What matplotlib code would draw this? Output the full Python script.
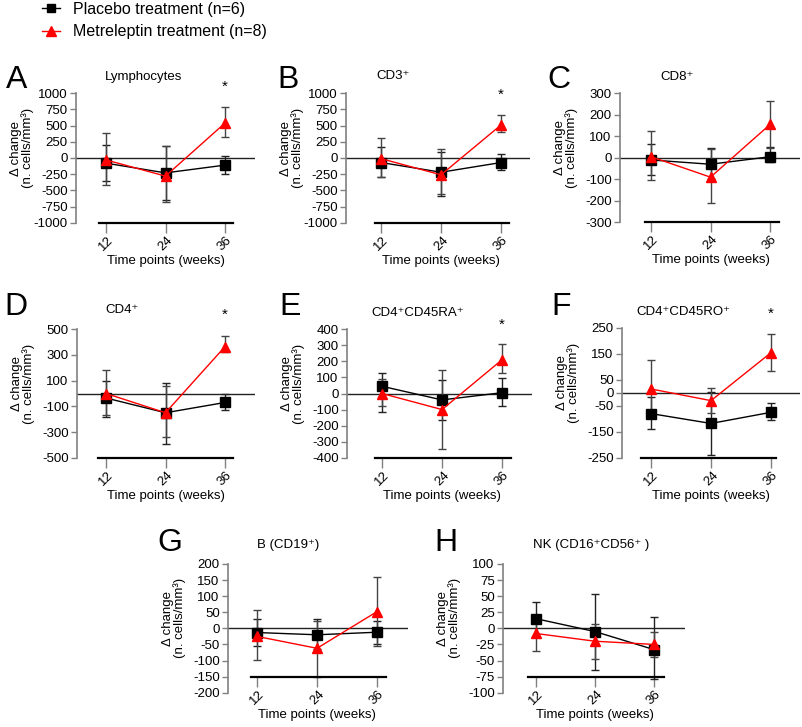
import numpy as np
import matplotlib.pyplot as plt
import matplotlib.transforms as mtransforms
from matplotlib.lines import Line2D

plt.rcParams['font.family'] = ['Liberation Sans', 'DejaVu Sans']

W, H = 802, 727
weeks = [12, 24, 36]

# A - Lymphocytes
lym_plc = [-80, -230, -110]
lym_plc_hi = [200, 180, 25]
lym_plc_lo = [-350, -650, -250]
lym_met = [-30, -280, 540]
lym_met_hi = [390, 190, 790]
lym_met_lo = [-420, -680, 330]

# B - CD3+
cd3_plc = [-70, -220, -70]
cd3_plc_hi = [170, 100, 60]
cd3_plc_lo = [-290, -580, -180]
cd3_met = [-10, -260, 510]
cd3_met_hi = [310, 140, 660]
cd3_met_lo = [-290, -560, 400]

# C - CD8+
cd8_plc = [-10, -30, 5]
cd8_plc_hi = [62, 45, 50]
cd8_plc_lo = [-78, -100, -20]
cd8_met = [5, -90, 155]
cd8_met_hi = [125, 40, 265]
cd8_met_lo = [-105, -210, 45]

# D - CD4+
cd4_plc = [-35, -150, -70]
cd4_plc_hi = [100, 80, 0]
cd4_plc_lo = [-185, -395, -130]
cd4_met = [0, -150, 365]
cd4_met_hi = [185, 60, 445]
cd4_met_lo = [-170, -340, 320]

# E - CD4+CD45RA+
ra_plc = [45, -40, 5]
ra_plc_hi = [125, 85, 98]
ra_plc_lo = [-115, -165, -79]
ra_met = [0, -100, 210]
ra_met_hi = [90, 145, 310]
ra_met_lo = [-80, -345, 128]

# F - CD4+CD45RO+
ro_plc = [-80, -118, -75]
ro_plc_hi = [-17, 2, -40]
ro_plc_lo = [-140, -238, -105]
ro_met = [15, -30, 155]
ro_met_hi = [128, 19, 228]
ro_met_lo = [-98, -79, 86]

# G - B (CD19+)
b_plc = [-13, -20, -12]
b_plc_hi = [28, 28, 24]
b_plc_lo = [-55, -65, -49]
b_met = [-25, -62, 52]
b_met_hi = [57, 22, 160]
b_met_lo = [-98, -152, -56]

# H - NK (CD16+CD56+)
nk_plc = [15, -5, -33]
nk_plc_hi = [41, 54, 17]
nk_plc_lo = [-12, -65, -78]
nk_met = [-8, -20, -25]
nk_met_hi = [18, 7, -5]
nk_met_lo = [-35, -48, -45]

fig = plt.figure(figsize=(W / 100, H / 100), dpi=100)

FS = 9.5
GRAY = '#808080'


def panel(spine, x12, x36, top, bot, right, ylim, yticks, bline, bx0, bx1,
          plc, plc_hi, plc_lo, met, met_hi, met_lo,
          letter, lxy, title, txy, star=None):
    ppw = (x36 - x12) / 24.0
    ax = fig.add_axes([spine / W, 1 - bot / H, (right - spine) / W, (bot - top) / H])
    ax.set_xlim(12 - (x12 - spine) / ppw, 36 + (right - x36) / ppw)
    ax.set_ylim(ylim)
    ax.axhline(0, color='#222222', lw=1, zorder=1)

    plc = np.array(plc); met = np.array(met)
    ax.errorbar(weeks, plc, yerr=[plc - np.array(plc_lo), np.array(plc_hi) - plc],
                fmt='none', ecolor='#222222', elinewidth=1, capsize=3, capthick=1, zorder=2)
    ax.errorbar(weeks, met, yerr=[met - np.array(met_lo), np.array(met_hi) - met],
                fmt='none', ecolor='#444444', elinewidth=1, capsize=3, capthick=1, zorder=2)
    ax.plot(weeks, plc, '-', color='black', lw=1, marker='s', ms=6.5,
            mfc='black', mec='black', zorder=3)
    ax.plot(weeks, met, '-', color='#ff0000', lw=1, marker='^', ms=7,
            mfc='#ff0000', mec='#ff0000', zorder=4)

    for s in ['top', 'right']:
        ax.spines[s].set_visible(False)
    ax.spines['left'].set_color(GRAY)
    ax.spines['left'].set_linewidth(1.2)
    ax.spines['bottom'].set_position(('data', bline))
    ax.spines['bottom'].set_bounds(12 - (x12 - bx0) / ppw, 36 + (bx1 - x36) / ppw)
    ax.spines['bottom'].set_linewidth(1.6)
    ax.spines['bottom'].set_color('black')

    ax.set_yticks(yticks)
    ax.set_yticklabels([str(t) for t in yticks])
    ax.set_xticks(weeks)
    ax.set_xticklabels([str(w) for w in weeks], rotation=45, ha='center', va='top')
    ax.tick_params(axis='y', direction='out', length=4, width=1, color=GRAY,
                   labelsize=FS, pad=2)
    ax.tick_params(axis='x', direction='out', length=7, width=1, color=GRAY,
                   labelsize=FS, pad=1)

    bline_px = bot - (bline - ylim[0]) / (ylim[1] - ylim[0]) * (bot - top)
    fig.text(((x12 + x36) / 2) / W, 1 - (bline_px + 38) / H, 'Time points (weeks)',
             ha='center', va='center', fontsize=FS)
    fig.text((spine - 54) / W, 1 - ((top + bot) / 2 - 10) / H,
             'Δ change\n(n. cells/mm³)', rotation=90, ha='center', va='center',
             fontsize=FS, linespacing=0.95, multialignment='center')
    fig.text(lxy[0] / W, 1 - lxy[1] / H, letter, ha='left', va='baseline', fontsize=23)
    fig.text(txy[0] / W, 1 - txy[1] / H, title, ha='center', va='center', fontsize=FS)
    if star is not None:
        fig.text(star[0] / W, 1 - star[1] / H, '*', ha='center', va='center', fontsize=11)
    return ax


panel(76, 106, 225, 93.3, 222.7, 255, (-1000, 1000), list(range(-1000, 1001, 250)),
      -1000, 99, 233, lym_plc, lym_plc_hi, lym_plc_lo, lym_met, lym_met_hi, lym_met_lo,
      'A', (6, 88), 'Lymphocytes', (144, 77), star=(225, 87))
panel(346, 381, 501, 93.3, 222.7, 530, (-1000, 1000), list(range(-1000, 1001, 250)),
      -1000, 375, 509, cd3_plc, cd3_plc_hi, cd3_plc_lo, cd3_met, cd3_met_hi, cd3_met_lo,
      'B', (277, 88), 'CD3⁺', (393, 76), star=(501, 95))
panel(620, 651, 770, 93.3, 222.3, 800, (-300, 300), list(range(-300, 301, 100)),
      -300, 645, 779, cd8_plc, cd8_plc_hi, cd8_plc_lo, cd8_met, cd8_met_hi, cd8_met_lo,
      'C', (547, 88), 'CD8⁺', (677, 77))
panel(77, 106, 225, 329.3, 457.7, 255, (-500, 500), [-500, -300, -100, 100, 300, 500],
      -500, 98, 233, cd4_plc, cd4_plc_hi, cd4_plc_lo, cd4_met, cd4_met_hi, cd4_met_lo,
      'D', (4, 315), 'CD4⁺', (122, 310), star=(225, 315))
panel(347, 382, 502, 329.3, 457.7, 532, (-400, 400), list(range(-400, 401, 100)),
      -400, 375, 511, ra_plc, ra_plc_hi, ra_plc_lo, ra_met, ra_met_hi, ra_met_lo,
      'E', (279, 315), 'CD4⁺CD45RA⁺', (418, 313), star=(502, 325))
panel(622, 651, 771, 328, 457.7, 800, (-250, 250), [-250, -150, -50, 0, 50, 150, 250],
      -250, 641, 776, ro_plc, ro_plc_hi, ro_plc_lo, ro_met, ro_met_hi, ro_met_lo,
      'F', (551, 315), 'CD4⁺CD45RO⁺', (683, 312), star=(771, 314))
panel(228, 257, 377, 564, 692.7, 408, (-200, 200), list(range(-200, 201, 50)),
      -150, 251, 386, b_plc, b_plc_hi, b_plc_lo, b_met, b_met_hi, b_met_lo,
      'G', (157, 551), 'B (CD19⁺)', (288, 545))
panel(503, 536, 654, 564, 692.7, 685, (-100, 100), list(range(-100, 101, 25)),
      -75, 528, 664, nk_plc, nk_plc_hi, nk_plc_lo, nk_met, nk_met_hi, nk_met_lo,
      'H', (434, 551), 'NK (CD16⁺CD56⁺ )', (591, 545))

handles = [Line2D([], [], color='black', lw=1, marker='s', ms=6, mfc='black', mec='black'),
           Line2D([], [], color='#ff0000', lw=1, marker='^', ms=6.5, mfc='#ff0000', mec='#ff0000')]
fig.legend(handles, ['Placebo treatment (n=6)', 'Metreleptin treatment (n=8)'],
           loc='upper left', bbox_to_anchor=(42 / W, 1 - 2 / H), frameon=False, fontsize=11.5,
           handlelength=1.1, handletextpad=0.85, borderaxespad=0, borderpad=0, labelspacing=0.45)

fig.savefig('out.png', dpi=100)
